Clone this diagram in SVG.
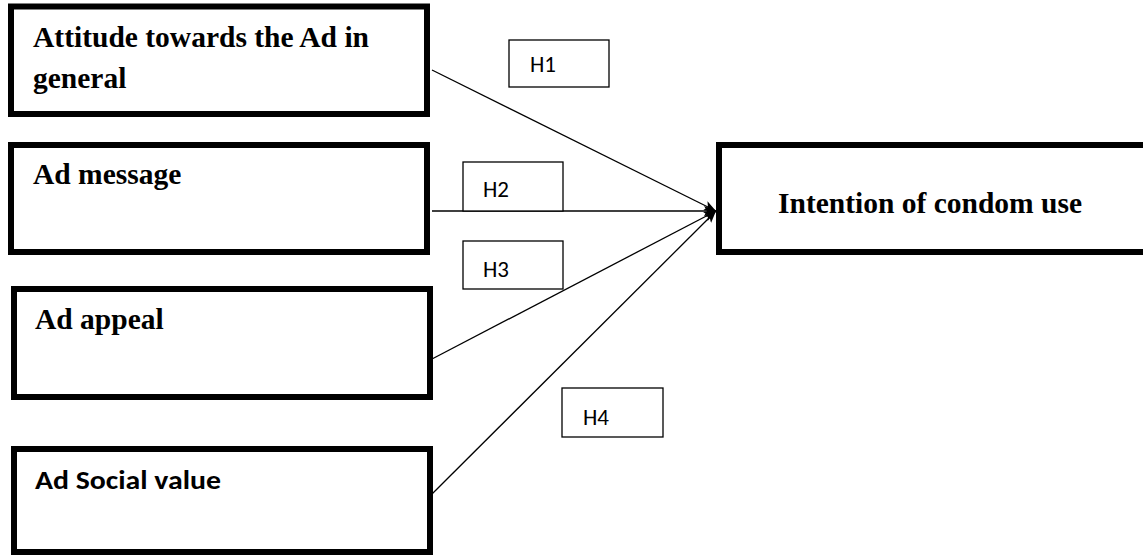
<svg xmlns="http://www.w3.org/2000/svg" width="1143" height="556" viewBox="0 0 1143 556">
<style>
.node{fill:#fff;stroke:#000;stroke-width:6}
.hbox{fill:#fff;stroke:#000;stroke-width:1.3}
.serif{font-family:"Liberation Serif","Times New Roman",serif;font-weight:bold;font-size:29.5px;fill:#000}
.sans{font-family:Carlito,Lato,"Liberation Sans",sans-serif;fill:#000}
.conn{stroke:#000;stroke-width:1.3;fill:none;marker-end:url(#arr)}
</style>
<defs>
<marker id="arr" viewBox="0 0 12 10" refX="12" refY="5" markerWidth="12" markerHeight="10" markerUnits="userSpaceOnUse" orient="auto">
<path d="M0,0 L12,5 L0,10 L3,5 Z" fill="#000"/>
</marker>
</defs>
<g id="connectors">
<line class="conn" x1="432" y1="70" x2="716" y2="211"/>
<line class="conn" x1="432" y1="211" x2="716" y2="211"/>
<line class="conn" x1="432" y1="359" x2="716" y2="211"/>
<line class="conn" x1="432" y1="494" x2="716" y2="211"/>
</g>
<g id="node-attitude">
<rect class="node" x="11" y="6.5" width="416" height="107.5"/>
<text class="serif" x="33" y="47">Attitude towards the Ad in</text>
<text class="serif" x="33" y="88">general</text>
</g>
<g id="node-message">
<rect class="node" x="11" y="145" width="416" height="107"/>
<text class="serif" x="33" y="184">Ad message</text>
</g>
<g id="node-appeal">
<rect class="node" x="14" y="289" width="416" height="108"/>
<text class="serif" x="35" y="329">Ad appeal</text>
</g>
<g id="node-social">
<rect class="node" x="14" y="449" width="416" height="103"/>
<text class="sans" x="35" y="489" font-weight="bold" font-size="27" textLength="186" lengthAdjust="spacingAndGlyphs">Ad Social value</text>
</g>
<g id="node-intention">
<rect class="node" x="719" y="145" width="440" height="107"/>
<text class="serif" x="778" y="213">Intention of condom use</text>
</g>
<g id="label-h1">
<rect class="hbox" x="509" y="40" width="100" height="47"/>
<text class="sans" x="530" y="72" font-size="23">H1</text>
</g>
<g id="label-h2">
<rect class="hbox" x="463" y="162" width="100" height="49"/>
<text class="sans" x="483" y="197" font-size="23">H2</text>
</g>
<g id="label-h3">
<rect class="hbox" x="463" y="241" width="100" height="48"/>
<text class="sans" x="483" y="277" font-size="23">H3</text>
</g>
<g id="label-h4">
<rect class="hbox" x="562" y="388" width="101" height="49"/>
<text class="sans" x="583" y="425" font-size="23">H4</text>
</g>
</svg>
